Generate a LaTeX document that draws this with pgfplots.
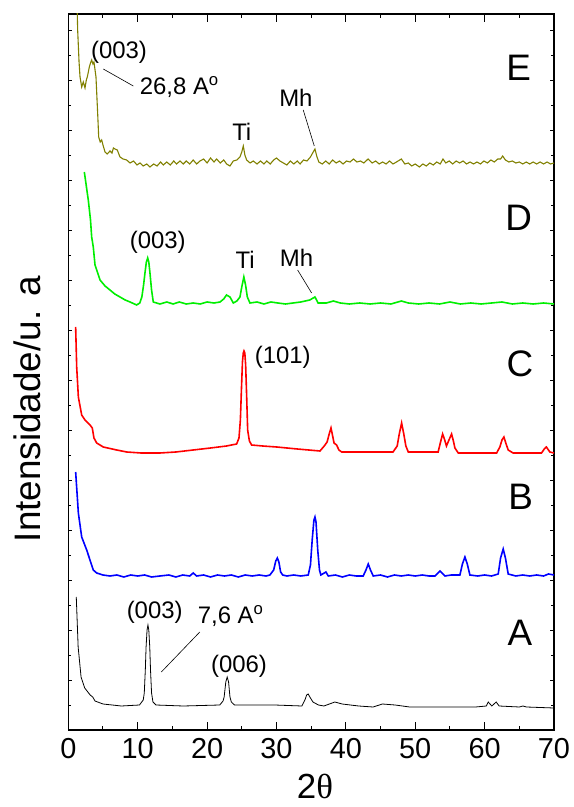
\documentclass[border=0pt]{standalone}
\usepackage{fontspec}
\setmainfont{Liberation Sans}
\newfontfamily\grfont{Liberation Serif}
\usepackage{pgfplots}
\pgfplotsset{compat=1.18}

\definecolor{olivetr}{HTML}{808000}
\definecolor{greentr}{HTML}{00EE00}
\definecolor{redtr}{HTML}{FF0000}
\definecolor{bluetr}{HTML}{0000FF}

\newcommand{\annfont}{\fontsize{24}{24}\selectfont}
\newcommand{\letfont}{\fontsize{37}{37}\selectfont}

\begin{document}
\begin{tikzpicture}
\begin{axis}[
  scale only axis,
  width=485.7bp, height=716bp,
  xmin=0, xmax=70, ymin=0, ymax=716,
  xtick={0,10,...,70}, minor x tick num=1,
  ytick={0,50,...,700}, yticklabels={}, minor y tick num=1,
  tick pos=both, tick align=inside,
  xtick style={black, line width=1bp, /pgfplots/major tick length=8bp, /pgfplots/minor tick length=4bp},
  ytick style={black, line width=0.8bp, /pgfplots/major tick length=4bp, /pgfplots/minor tick length=3bp},
  axis line style={line width=1.2bp},
  ticklabel style={font=\fontsize{29}{29}\selectfont},
  xticklabel style={yshift=-5bp},
  /pgf/number format/assume math mode=true,
  xlabel={2{\grfont θ}},
  xlabel style={font=\fontsize{35}{35}\selectfont, inner sep=0pt, at={(axis description cs:0.508,-0.079)}, anchor=center},
  ylabel={Intensidade/u. a},
  ylabel style={font=\fontsize{37}{37}\selectfont, inner sep=0pt, at={(axis description cs:-0.085,0.448)}, anchor=center, rotate=0},
]
% A
\addplot[black, line width=0.8bp] coordinates {
(1.15,133) (1.42,83) (1.84,53) (2.37,42) (3.15,35) (3.52,33) (3.85,29) (5.0,26) (7.64,24)
(10.26,25) (10.8,30) (10.95,37) (11.1,60) (11.21,83) (11.35,100) (11.48,105) (11.6,100)
(11.74,83) (11.85,60) (12.0,37) (12.2,28) (12.64,25) (16.57,24)
(21.83,25) (22.3,29) (22.46,33) (22.7,48) (22.9,53) (23.1,48) (23.3,33) (23.5,28) (23.95,25)
(29.73,25) (33.67,24) (34.1,30) (34.35,35) (34.57,36) (34.9,32) (35.26,28) (36.05,25)
(36.84,24) (37.63,26) (38.42,28) (39.47,26) (41.84,24) (43.94,23) (45.26,26) (47.1,25)
(49.2,23) (58.7,23) (60.25,24) (60.52,28) (61.04,24) (61.67,28) (62.09,24) (65.0,23)
(65.52,24) (66.04,23) (70,22)
};
% B
\addplot[bluetr, line width=1.6bp] coordinates {
(1.06,258) (1.45,217) (1.93,193) (2.65,180) (3.6,160) (4.09,157) (5.0,155) (6.0,154)
(7.0,155) (8.0,153) (9.0,155) (10.0,154) (11.0,155) (12.0,153) (13.2,154) (14.5,155)
(15.5,153) (16.5,155) (17.5,154) (18.0,157) (18.5,154) (19.5,155) (20.5,153) (21.5,155)
(22.5,154) (23.5,155) (24.5,153) (25.5,155) (26.5,154) (27.5,155) (28.5,154) (29.06,155)
(29.6,160) (29.9,169) (30.12,172) (30.35,168) (30.6,158) (30.9,155) (31.5,154) (32.5,155)
(33.5,154) (34.58,155) (34.9,165) (35.15,190) (35.4,210) (35.55,213) (35.7,208) (35.95,180)
(36.2,160) (36.4,155) (37.13,158) (37.47,154) (38.5,155)
(39.5,153) (40.5,155) (41.5,154) (42.5,154) (42.9,160) (43.23,166) (43.55,160) (43.95,154)
(45,155) (46,153) (47,155) (48,154) (49,155) (50,154) (51,155) (52,154) (52.84,154)
(53.56,159) (54.28,154) (55.2,155) (56.44,155) (56.8,166) (57.16,173) (57.5,166) (57.88,155)
(59,154) (60,155) (61.0,154) (61.96,156) (62.3,172) (62.68,181) (63.0,172) (63.4,156)
(64.5,154) (65.5,155) (66.5,154) (67.5,155) (68.5,154) (69.2,156) (70,155)
};
% C
\addplot[redtr, line width=1.6bp] coordinates {
(1.06,403) (1.21,363) (1.45,333) (1.93,315) (2.41,310) (3.13,305) (3.46,302) (3.70,292)
(4.09,287) (5.04,283) (6.97,280) (8.41,278) (10.5,277) (13.2,277) (15.5,278) (18.0,280)
(20.5,282) (22.8,284) (24.26,286) (24.6,292) (24.8,310) (24.95,340) (25.1,368) (25.22,377)
(25.32,379) (25.44,377) (25.56,365) (25.7,335) (25.85,300) (26.1,289)
(26.42,285) (28.0,284) (30.03,283) (33.0,281) (36.27,279) (36.89,284) (37.3,288) (37.6,296)
(37.86,302) (38.1,294) (38.3,287) (38.67,285) (39.0,280) (39.4,278) (43.0,278) (46.8,278)
(47.4,284) (47.7,296) (48.04,307) (48.35,296) (48.65,284) (49.0,278) (53.3,278) (53.65,288)
(53.95,296) (54.25,290) (54.5,284) (54.8,289) (55.24,296) (55.5,289) (55.72,282) (56.2,277)
(61.73,277) (62.2,283) (62.5,290) (62.78,293) (63.1,286) (63.4,280) (64.1,277) (68.2,277)
(68.6,281) (68.9,283) (69.4,278) (70,277)
};
% D
\addplot[greentr, line width=1.6bp] coordinates {
(2.31,558) (2.88,530) (3.2,510) (3.37,493) (3.6,483) (3.85,465) (4.57,450) (5.3,444)
(6.0,440) (6.7,436) (7.45,433) (8.2,430) (8.9,428) (9.85,425) (10.3,427) (10.6,433)
(10.85,445) (11.05,457) (11.25,468) (11.44,472) (11.6,468) (11.77,457) (12.0,440) (12.25,428)
(13.2,426) (14.2,428) (15.1,426) (16.0,428) (17.0,426)
(18.0,427) (19.0,426) (20.0,428) (21.0,427) (21.86,428) (22.4,431) (22.8,435) (23.3,433)
(23.78,427) (24.3,429) (24.74,433) (25.0,443) (25.3,453) (25.55,445) (25.8,433) (26.18,427)
(27.2,428) (28.2,426) (29.2,428)
(30.2,427) (31.3,426) (32.4,427) (33.5,428) (34.8,430) (35.55,433) (36.0,427) (37.2,427)
(38.2,429) (39.2,427) (40.5,426) (42.0,427) (43.5,426) (45.0,427) (46.5,426) (48.0,429)
(49.0,427) (50.5,426) (52.0,427) (53.5,426) (55.0,428) (56.5,426) (58.0,427) (59.5,426)
(61.0,427) (62.5,428) (64.0,426) (65.5,427) (67.0,426) (68.5,427) (70,426)
};
% E
\addplot[olivetr, line width=1.1bp] coordinates {
(1.15,760) (1.35,700) (1.55,668) (1.69,653) (1.93,643) (2.16,648) (2.41,642) (2.6,650)
(2.74,653) (3.03,663) (3.2,667) (3.37,670) (3.55,666) (3.70,668) (3.99,653) (4.23,617)
(4.38,593) (4.6,588) (4.81,590) (5.0,585) (5.29,578) (5.6,576) (6.01,579) (6.3,577)
(6.5,582) (6.73,581) (7.06,580) (7.45,573) (7.9,571) (8.41,570) (8.9,567) (9.4,569)
(9.9,565) (10.33,567) (10.8,564) (11.3,566) (11.77,563) (12.3,566) (12.8,564) (13.3,568)
(13.7,565) (14.18,568) (14.7,565) (15.2,569) (15.6,566) (16.1,569) (16.57,566) (17.0,569)
(17.5,566) (18.0,570) (18.5,566) (18.98,569) (19.5,571) (20.0,567) (20.5,572) (21.0,568)
(21.38,571) (21.9,567) (22.4,570) (22.82,566) (23.3,564) (23.78,569) (24.3,570) (24.74,573)
(25.0,578) (25.22,584) (25.45,575) (25.7,570) (26.2,567) (26.66,569) (27.2,566) (27.7,569)
(28.2,566) (28.6,569) (29.1,566) (29.6,570) (30.0,572) (30.5,569) (31.0,567) (31.5,565)
(32.0,569) (32.5,566) (33.0,569) (33.4,566) (33.9,570) (34.4,569) (34.9,573) (35.3,578)
(35.55,581) (35.8,574) (36.1,568) (36.6,566) (37.1,569) (37.6,566) (38.1,570) (38.6,567)
(39.1,569) (39.6,566) (40.1,569) (40.6,568) (41.1,571) (41.6,568) (42.1,569) (42.6,567)
(43.2,571) (43.8,567) (44.3,569) (44.8,566) (45.3,568) (45.8,566) (46.3,569) (46.8,566)
(47.3,568) (48.0,571) (48.5,566) (49.0,567) (49.5,564) (50.0,566) (50.6,563) (51.1,566)
(51.6,564) (52.1,567) (52.6,565) (53.1,568) (53.6,566) (54.0,571) (54.4,567) (54.9,569)
(55.4,566) (55.9,569) (56.4,567) (56.9,569) (57.4,566) (57.9,568) (58.4,566) (58.9,568)
(59.4,566) (59.9,569) (60.4,567) (60.9,570) (61.4,568) (61.9,571) (62.3,571) (62.6,574)
(63.0,570) (63.5,568) (64.0,569) (64.5,567) (65.0,568) (65.5,566) (66.0,568) (66.5,566)
(67.0,568) (67.5,566) (68.0,568) (68.5,566) (69.0,568) (69.5,566) (70,567)
};
% annotations
\node[font=\letfont] at (axis cs:64.9,662) {E};
\node[font=\letfont] at (axis cs:64.9,512.5) {D};
\node[font=\letfont] at (axis cs:65.1,366) {C};
\node[font=\letfont] at (axis cs:65.2,233) {B};
\node[font=\letfont] at (axis cs:65.1,97) {A};
\node[font=\annfont] at (axis cs:7.3,677.5) {(003)};
\node[font=\annfont] at (axis cs:16.0,643) {26,8 A\textsuperscript{o}};
\draw[black, line width=0.6bp] (axis cs:5.04,661) -- (axis cs:9.37,644);
\node[font=\annfont] at (axis cs:25.0,598) {Ti};
\node[font=\annfont] at (axis cs:32.8,632.5) {Mh};
\draw[black, line width=0.6bp] (axis cs:33.86,620) -- (axis cs:35.45,584);
\node[font=\annfont] at (axis cs:12.9,487.5) {(003)};
\node[font=\annfont] at (axis cs:25.5,470) {Ti};
\node[font=\annfont] at (axis cs:32.9,472) {Mh};
\draw[black, line width=0.6bp] (axis cs:33.05,460) -- (axis cs:35.07,437);
\node[font=\annfont] at (axis cs:30.9,373) {(101)};
\node[font=\annfont] at (axis cs:12.45,118) {(003)};
\node[font=\annfont] at (axis cs:23.4,114) {7,6 A\textsuperscript{o}};
\draw[black, line width=0.6bp] (axis cs:18.95,98) -- (axis cs:13.41,58);
\node[font=\annfont] at (axis cs:24.6,64) {(006)};
\end{axis}
\pgfresetboundingbox
\path (-68.3bp,-77bp) rectangle (505.7bp,730bp);
\end{tikzpicture}
\end{document}
